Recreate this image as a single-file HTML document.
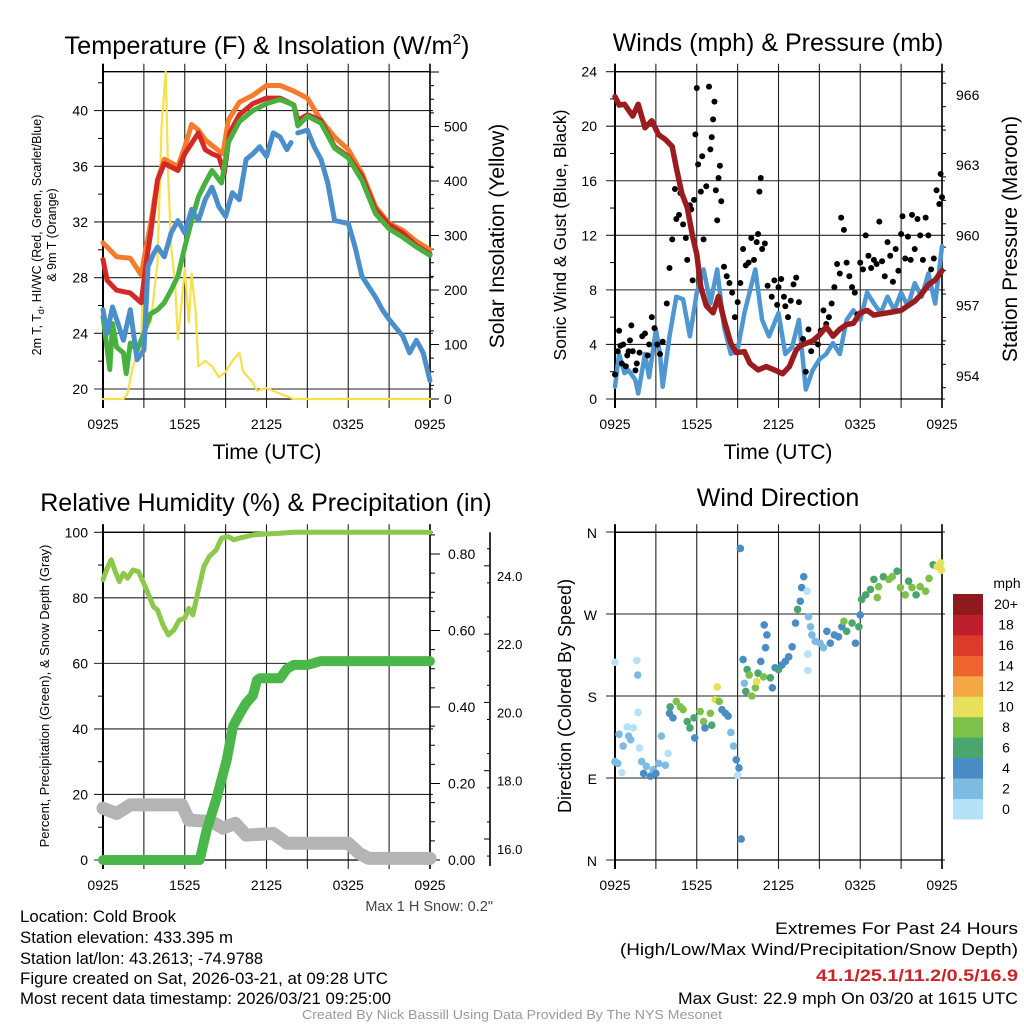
<!DOCTYPE html>
<html><head><meta charset="utf-8">
<style>
html,body{margin:0;padding:0;background:#fff;}
svg{display:block;font-family:"Liberation Sans",Arial,sans-serif;}
</style></head>
<body>
<svg id="chart" width="1024" height="1024" viewBox="0 0 1024 1024" xmlns="http://www.w3.org/2000/svg">
<rect x="0" y="0" width="1024" height="1024" fill="#fff"/>
<g id="layer"></g>
<!-- titles -->
<text x="267" y="54" font-size="25" text-anchor="middle" textLength="405" lengthAdjust="spacingAndGlyphs">Temperature (F) &amp; Insolation (W/m<tspan font-size="15" dy="-10">2</tspan><tspan dy="10">)</tspan></text>
<text x="778" y="51" font-size="25" text-anchor="middle">Winds (mph) &amp; Pressure (mb)</text>
<text x="266" y="511" font-size="25" text-anchor="middle">Relative Humidity (%) &amp; Precipitation (in)</text>
<text x="778" y="506" font-size="25" text-anchor="middle">Wind Direction</text>
<!-- axis titles -->
<text x="267" y="459" font-size="21" text-anchor="middle">Time (UTC)</text>
<text x="778" y="459" font-size="21" text-anchor="middle">Time (UTC)</text>
<text transform="translate(41,235) rotate(-90)" font-size="12.5" text-anchor="middle">2m T, T<tspan font-size="9" dy="3">d</tspan><tspan dy="-3">, HI/WC (Red, Green, Scarlet/Blue)</tspan></text>
<text transform="translate(56,235) rotate(-90)" font-size="12.5" text-anchor="middle">&amp; 9m T (Orange)</text>
<text transform="translate(504,236) rotate(-90)" font-size="21" text-anchor="middle">Solar Insolation (Yellow)</text>
<text transform="translate(566,235) rotate(-90)" font-size="17.5" text-anchor="middle">Sonic Wind &amp; Gust (Blue, Black)</text>
<text transform="translate(1017,239) rotate(-90)" font-size="21" text-anchor="middle">Station Pressure (Maroon)</text>
<text transform="translate(49,696) rotate(-90)" font-size="13" text-anchor="middle">Percent, Precipitation (Green), &amp; Snow Depth (Gray)</text>
<text transform="translate(571,696) rotate(-90)" font-size="18" text-anchor="middle">Direction (Colored By Speed)</text>
<text x="493" y="911" font-size="14.5" fill="#444" text-anchor="end">Max 1 H Snow: 0.2"</text>
<!-- footer -->
<g font-size="16.5">
<text x="20" y="922" textLength="156" lengthAdjust="spacingAndGlyphs">Location: Cold Brook</text>
<text x="20" y="943" textLength="213" lengthAdjust="spacingAndGlyphs">Station elevation: 433.395 m</text>
<text x="20" y="964">Station lat/lon: 43.2613; -74.9788</text>
<text x="20" y="984" textLength="368" lengthAdjust="spacingAndGlyphs">Figure created on Sat, 2026-03-21, at 09:28 UTC</text>
<text x="20" y="1004" textLength="371" lengthAdjust="spacingAndGlyphs">Most recent data timestamp: 2026/03/21 09:25:00</text>
</g>
<g font-size="16.5">
<text x="775" y="934" textLength="243" lengthAdjust="spacingAndGlyphs">Extremes For Past 24 Hours</text>
<text x="620" y="955" textLength="398" lengthAdjust="spacingAndGlyphs">(High/Low/Max Wind/Precipitation/Snow Depth)</text>
<text x="816" y="981" fill="#cc2229" font-weight="bold" textLength="202" lengthAdjust="spacingAndGlyphs">41.1/25.1/11.2/0.5/16.9</text>
<text x="678" y="1004" textLength="340" lengthAdjust="spacingAndGlyphs">Max Gust: 22.9 mph On 03/20 at 1615 UTC</text>
</g>
<text x="302" y="1019" font-size="13" fill="#999" textLength="420" lengthAdjust="spacingAndGlyphs">Created By Nick Bassill Using Data Provided By The NYS Mesonet</text>
<text x="1007" y="588" font-size="14" text-anchor="middle">mph</text>
</svg>
<script>
// ---------- data ----------
const timeTicks = ["0925","1525","2125","0325","0925"];
// Temperature panel
const orangeH = [0,1,2,2.8,3.0,3.5,4.0,4.5,5.5,6.0,6.5,7.0,7.5,8.0,8.8,9.2,10,11,12,13,14,15,16,17,18,19,20,21,22,23,24];
const orangeT = [30.5,29.5,29.4,28.2,29.3,31.9,35.0,36.5,36.0,37.4,39.0,38.6,37.9,37.5,36.9,39.3,40.6,41.1,41.8,41.8,41.4,40.9,39.3,38.1,37.2,35.5,33.1,31.9,31.4,30.6,30.0];
const redH = [0,0.3,1,2,2.8,3.2,3.5,4,4.5,5.5,6,7,7.5,8,8.5,8.9,9.3,10,11,12,13,14,14.3,15,16,17,18,19,20,21,22,23,24];
const redT = [29.3,27.8,27.1,26.9,26.2,29.3,31.2,35.0,36.2,35.7,36.9,38.4,37.2,36.9,36.7,35.5,38.4,39.7,40.5,40.9,40.9,40.4,39.3,39.7,39.3,37.4,36.7,35.3,32.9,31.8,31.2,30.3,29.7];
const greenH = [0,0.5,0.7,1,1.5,1.7,2,2.5,3,3.5,4,4.5,5,5.5,6,6.5,7,7.5,8,8.7,9.2,10,11,12,13,14,14.3,15,16,17,18,19,20,21,22,23,24];
const greenT = [25.2,21.4,24.7,23.0,22.6,21.1,23.3,22.8,24.0,25.4,25.7,26.2,27.1,28.1,30.2,32.1,33.8,34.8,35.7,34.8,37.7,39.2,40.0,40.5,40.8,40.4,38.9,39.6,39.1,37.3,36.6,35.0,32.6,31.5,30.9,30.2,29.6];
const blueH = [0,0.3,0.7,1,1.5,2,2.5,3,3.3,3.7,4,4.5,5,5.5,6,6.5,7,7.5,8,8.5,9,9.5,10,10.5,11,11.5,12,12.5,13,13.5,13.8];
const blueT = [25.7,24.0,25.9,25.0,23.5,25.7,22.1,22.8,28.8,29.7,30.2,29.5,31.2,32.1,31.2,32.9,32.1,33.6,34.5,33.1,32.4,34.1,33.6,36.5,36.9,37.4,36.7,38.4,38.1,37.2,37.7];
const blue2H = [14.3,15,15.5,16,16.5,17,18,18.5,19,20,20.5,21,22,22.5,23,23.5,24];
const blue2T = [38.4,38.6,37.4,36.5,34.8,32.1,31.9,30.2,28.1,26.6,25.7,25.0,23.8,22.6,23.5,22.6,20.6];
const solarH = [0,1.5,1.8,2.2,2.8,2.95,3.2,3.5,4.0,4.3,4.6,4.8,5.0,5.3,5.5,5.7,6.0,6.3,6.5,6.8,7.0,7.5,8,8.5,9,9.5,10,10.3,11,11.3,12,13,13.5,14,24];
const solarW = [0,0,10,60,100,255,160,140,250,500,600,400,280,210,110,160,240,140,230,160,60,70,60,40,50,70,85,50,30,15,20,10,5,0,0];
// Winds panel
const windH = [0,0.3,0.7,1,1.5,1.7,2.2,2.5,3,3.3,3.5,4,4.5,5,5.5,6,6.5,7,7.5,8,8.5,9,9.5,10.3,10.8,11.3,12,12.5,13,13.5,14,14.5,15,15.5,16,16.5,17,17.5,18,18.5,19,19.5,20,20.5,21,21.5,22,22.5,23,23.5,24];
const windS = [0.9,3.3,1.9,2.1,1.4,0.4,3.3,1.6,5.1,3.3,0.9,4.6,7.5,7.3,4.6,7.8,9.5,7.0,9.5,5.3,3.3,3.6,6.3,9.5,5.8,4.6,6.3,3.3,3.8,5.8,0.7,2.1,2.9,3.3,4.1,3.3,5.8,6.5,5.8,7.8,7.0,6.3,7.5,6.5,7.8,6.8,8.5,7.5,9.2,7.0,11.2];
const gustH = [0,0.2,0.3,0.4,0.5,0.6,0.8,0.9,1.0,1.1,1.2,1.3,1.5,1.6,1.8,2.0,2.2,2.4,2.5,2.7,2.9,3.1,3.3,3.5,3.8,4.0,4.2,4.4,4.5,4.7,4.8,5.0,5.2,5.3,5.5,5.6,5.7,5.8,5.9,6.0,6.1,6.3,6.4,6.5,6.7,6.9,7.0,7.1,7.2,7.3,7.4,7.5,7.6,7.7,7.8,8.0,8.2,8.4,8.6,8.8,9.0,9.2,9.4,9.6,9.8,10.0,10.2,10.4,10.5,10.6,10.7,10.8,11.0,11.2,11.5,11.7,11.9,12.0,12.2,12.4,12.5,12.7,12.9,13.1,13.3,13.5,13.8,14.0,14.2,14.4,14.6,14.9,15.1,15.3,15.5,15.7,15.9,16.1,16.3,16.5,16.6,16.8,17.0,17.2,17.4,17.6,17.8,18.0,18.2,18.4,18.6,18.8,19.0,19.2,19.4,19.6,19.8,20.0,20.2,20.4,20.6,20.8,21.0,21.1,21.3,21.5,21.7,21.8,22.0,22.2,22.4,22.6,22.8,23.0,23.2,23.4,23.6,23.8,23.9,24.0];
const gustS = [1.8,3.5,5.0,3.9,2.6,4.0,2.4,3.2,3.5,4.3,5.4,3.5,2.1,2.6,3.4,4.6,4.8,3.2,4.0,6.0,5.2,4.0,3.3,4.2,7.0,9.6,11.7,15.4,13.2,13.5,15.1,12.8,11.8,10.2,14.2,13.9,8.7,14.6,19.4,22.8,17.2,15.2,17.8,11.7,15.6,22.9,18.3,19.2,20.5,21.8,15.3,13.1,16.2,17.1,14.5,9.7,9.0,8.5,7.8,6.0,7.1,8.5,11.0,9.8,10.0,11.8,10.2,11.5,12.1,15.2,16.2,11.0,11.4,8.3,7.5,8.7,6.9,8.2,8.8,7.5,6.8,6.0,7.2,8.4,8.9,7.1,4.4,2.0,5.1,3.5,4.3,4.0,5.0,6.5,5.5,6.0,7.0,8.2,9.9,9.2,13.3,12.4,10.0,9.0,8.2,7.8,6.2,10.0,9.5,12.0,10.5,9.6,10.2,9.9,13.0,10.1,9.0,11.5,10.5,8.6,11.0,9.4,12.1,13.4,10.3,11.9,10.2,13.5,11.0,13.2,12.0,10.2,13.3,12.0,9.5,10.3,15.3,14.3,16.5,14.8];
const presH = [0,0.3,0.7,1.3,1.7,2.2,2.7,3.2,3.7,4.2,4.5,4.9,5.3,5.7,6.0,6.3,6.7,7.2,7.6,8,8.5,8.9,9.5,9.9,10.5,11.1,11.7,12.3,12.8,13.3,13.6,14.5,15.0,15.5,16.0,16.5,17.0,17.5,18,18.5,19,20,21,22,22.5,23,23.5,24];
const presMb = [965.93,965.57,965.6,965.1,965.6,964.6,964.9,964.3,964.1,963.8,962.9,961.8,961.2,959.95,959.2,957.8,957.0,956.7,957.4,956.4,955.4,955.0,955.04,954.54,954.26,954.4,954.26,954.1,954.4,955.1,955.3,955.5,955.75,956.1,955.7,956.0,956.2,956.25,956.7,956.8,956.6,956.7,956.8,957.2,957.5,957.9,958.1,958.5];
// Humidity panel
const rhH = [0,0.3,0.6,0.9,1.2,1.5,1.8,2.2,2.6,3.0,3.4,3.7,4.0,4.4,4.8,5.2,5.6,6.0,6.3,6.6,7.0,7.4,7.8,8.3,8.7,9.2,9.6,10,11,12,13,14,24];
const rhPct = [85.5,89,91.6,88,85,87.5,86,88.5,88,84.4,80.4,77.3,76.3,71.7,68.7,70.2,73.2,73.8,76.8,74.8,82.4,89.5,92.6,94.6,98.2,98.7,97.7,98.2,99.2,99.5,99.7,100,100];
const precipH = [0,7.1,7.6,8.3,9.07,9.55,10.0,10.5,11.0,11.3,11.5,13.0,13.5,14.0,15,16,24];
const precipIn = [0,0,0.078,0.157,0.26,0.35,0.38,0.41,0.43,0.47,0.475,0.475,0.5,0.51,0.51,0.52,0.52];
const snowH = [0,1.0,2.0,5.8,6.3,8.0,8.8,9.7,10.5,12.5,13.5,18.0,18.8,19.5,24];
const snowVal = [15.8,14.2,16.8,16.8,12.2,11.7,9.7,11.2,7.6,8.1,5.1,5.1,2.0,0.5,0.5];
// Wind direction panel
const dirH = [0,0,0.2,0.3,0.5,0.6,0.9,1.0,1.15,1.35,1.6,1.67,1.7,1.8,1.96,2.1,2.3,2.6,2.8,3.0,3.2,3.4,3.7,3.9,4.0,4.05,4.25,4.5,4.8,5.0,5.3,5.5,5.8,5.85,6.25,6.5,6.6,7.0,7.1,7.35,7.5,7.65,7.85,8.1,8.3,8.5,8.7,8.9,9.0,9.1,9.2,9.26,9.4,9.5,9.6,9.7,9.85,10.05,10.3,10.4,10.5,10.7,10.9,10.95,11.05,11.15,11.4,11.55,11.75,12.0,12.25,12.5,12.75,13.0,13.25,13.4,13.6,13.7,13.85,14.1,14.2,14.35,14.45,14.7,14.15,14.15,15.05,15.3,15.55,15.8,16.1,16.4,16.65,16.8,17.0,17.4,17.65,17.9,18.0,18.1,18.4,18.75,19.0,19.25,19.35,19.7,20.1,20.35,20.7,20.95,21.3,21.55,21.8,22.1,22.4,22.8,23.05,23.35,23.65,23.9,23.97];
const dirDeg = [217,108,106,138,96,125,146,136,132,145,219,203,162,123,108,95,103,92,99,95,106,136,104,117,161,168,156,174,168,165,152,145,156,134,163,152,145,161,148,176,190,174,165,161,158,140,125,110,93,101,342,23,220,194,185,209,203,180,189,196,205,218,201,258,233,247,200,189,211,209,214,218,223,234,260,275,284,299,311,295,267,256,247,240,226,208,238,233,251,238,247,245,256,262,251,260,238,256,269,286,291,297,308,288,300,311,308,311,317,299,291,306,299,291,300,295,309,324,322,326,318];
const dirSpd = [1,3,3,3,1,3,1,3,3,1,1,3,1,1,3,4,3,4,3,4,3,3,3,1,4,6,4,8,8,8,6,6,6,4,8,8,4,8,6,10,10,8,4,4,4,3,3,4,1,4,4,4,4,3,6,6,8,8,8,10,6,4,8,4,4,4,6,4,4,6,4,4,4,4,4,6,4,4,4,1,2,2,2,2,1,1,2,2,4,4,4,4,4,8,6,6,4,6,4,6,6,6,6,8,8,6,8,8,6,8,8,6,8,6,8,8,8,6,10,10,10];
const cbLabels = ["0","2","4","6","8","10","12","14","16","18","20+"];
const cbColors = ["#b5e2f6","#7dbbe3","#4a8dc6","#4aa56e","#7dc14b","#e6e05a","#f4a844","#ef6330","#dd3a2a","#bf1e2d","#8e1a1d"];

// ---------- scales ----------
const X0 = 103, X1 = 430, X0R = 615, X1R = 942;
function xL(h){ return X0 + h*(X1-X0)/24; }
function xR(h){ return X0R + h*(X1R-X0R)/24; }
function yTemp(t){ return 389 - (t-20)*13.92; }
function ySolar(s){ return 399 - s*0.545; }
function yWind(m){ return 399 - m*13.64; }
function yPres(p){ return 376 - (p-954)*23.42; }
function yRH(r){ return 860 - r*3.277; }
function yPrecip(p){ return 860 - p*382.5; }
function ySnowAxis(v){ return 839 - (v-16)*34.15; }
function yDir(d){ return 860 - d*82/90; }

const NS = "http://www.w3.org/2000/svg";
const layer = document.getElementById('layer');
function el(tag, attrs, parent){
  const e = document.createElementNS(NS, tag);
  for (const k in attrs) e.setAttribute(k, attrs[k]);
  (parent||layer).appendChild(e);
  return e;
}
function txt(x,y,s,size,anchor,parent){
  const t = el('text',{x:x,y:y,'font-size':size,'text-anchor':anchor||'middle'},parent);
  t.textContent = s;
  return t;
}
function poly(hs, vs, xf, yf, color, w, name, parent){
  const pts = hs.map((h,i)=>xf(h).toFixed(1)+','+yf(vs[i]).toFixed(1)).join(' ');
  const p = el('polyline',{points:pts,fill:'none',stroke:color,'stroke-width':w,'stroke-linejoin':'round','stroke-linecap':'round'},parent);
  
  
  return p;
}

// ---------- panel frame ----------
function frame(xa, xb, yt, yb, hLines, name){
  const g = el('g',{});
  
  
  for (let i=0;i<=8;i++){
    const x = xa + i*(xb-xa)/8;
    el('line',{x1:x,y1:yt-8,x2:x,y2:yb+9,stroke:'#222','stroke-width':1.1},g);
  }
  hLines.forEach(y=>{ el('line',{x1:xa-9,y1:y,x2:xb+3,y2:y,stroke:'#222','stroke-width':1.1},g); });
  el('line',{x1:xa,y1:yt,x2:xb,y2:yt,stroke:'#000','stroke-width':1.3},g);
  el('line',{x1:xa,y1:yb,x2:xb,y2:yb,stroke:'#000','stroke-width':1.3},g);
  el('line',{x1:xa,y1:yt-8,x2:xa,y2:yb+9,stroke:'#000','stroke-width':2},g);
  el('line',{x1:xb,y1:yt-8,x2:xb,y2:yb+9,stroke:'#000','stroke-width':1.6},g);
  timeTicks.forEach((s,i)=>{
    const x = xa + i*(xb-xa)/4;
    const t = txt(x, yb+30, s, 14, 'middle', g);
    
    
  });
  return g;
}

// ===== Panel 1: Temperature =====
const tempTicks = [20,24,28,32,36,40];
const solarTicks = [0,100,200,300,400,500];
const g1 = frame(X0, X1, 71.7, 399, tempTicks.map(yTemp), 'temperature-panel');
tempTicks.forEach(t=>{ const l=txt(88, yTemp(t)+5, String(t), 14, 'end', g1);   });
for (let t=22;t<=42;t+=4){ el('line',{x1:X0-5,y1:yTemp(t),x2:X0,y2:yTemp(t),stroke:'#000'},g1); }
for (let s=0;s<=600;s+=25){ el('line',{x1:X1,y1:ySolar(s),x2:X1+(s%100===0?9:4),y2:ySolar(s),stroke:'#000'},g1); }
solarTicks.forEach(s=>{ const l=txt(444, ySolar(s)+5, String(s), 14, 'start', g1);   });
poly(solarH, solarW, xL, ySolar, '#f7e04a', 2.2, 'solar-insolation-line');
poly(orangeH, orangeT, xL, yTemp, '#f47c2c', 5, 'temp-9m-line');
poly(redH, redT, xL, yTemp, '#d42a26', 5, 'temp-2m-line');
poly(greenH, greenT, xL, yTemp, '#48b03e', 5, 'heat-index-wind-chill-line');
poly(blueH, blueT, xL, yTemp, '#4a8fc9', 5, 'dewpoint-line');
poly(blue2H, blue2T, xL, yTemp, '#4a8fc9', 5, 'dewpoint-line-2');

// ===== Panel 2: Winds =====
const windTicks = [0,4,8,12,16,20,24];
const presTicks = [954,957,960,963,966];
const g2 = frame(X0R, X1R, 71.7, 399, windTicks.map(yWind), 'winds-panel');
windTicks.forEach(m=>{ const l=txt(597, yWind(m)+5, String(m), 14, 'end', g2);   });
for (let m=2;m<24;m+=4){ el('line',{x1:X0R-5,y1:yWind(m),x2:X0R,y2:yWind(m),stroke:'#000'},g2); }
for (let p=953.5;p<=967;p+=1){ el('line',{x1:X1R,y1:yPres(p),x2:X1R+(Number.isInteger((p-954)/3)?9:4),y2:yPres(p),stroke:'#000'},g2); }
presTicks.forEach(p=>{ const l=txt(956, yPres(p)+5, String(p), 14, 'start', g2);   });
poly(windH, windS, xR, yWind, '#4f97d1', 4.5, 'sonic-wind-line');
const gg = el('g',{});


gustH.forEach((h,i)=>{
  const c = el('circle',{cx:xR(h),cy:yWind(gustS[i]),r:3,fill:'#000'},gg);
  
  
});
poly(presH, presMb, xR, yPres, '#9a1c1f', 5.5, 'station-pressure-line');

// ===== Panel 3: Humidity =====
const rhTicks = [0,20,40,60,80,100];
const precipTicks = [0,0.2,0.4,0.6,0.8];
const snowTicks = [16,18,20,22,24];
const Y3T = 532.3, Y3B = 860;
const g3 = frame(X0, X1, Y3T, Y3B, rhTicks.map(yRH), 'humidity-panel');
rhTicks.forEach(r=>{ const l=txt(88, yRH(r)+5, String(r), 14, 'end', g3);   });
for (let r=10;r<100;r+=20){ el('line',{x1:X0-5,y1:yRH(r),x2:X0,y2:yRH(r),stroke:'#000'},g3); }
for (let p=0;p<=0.851;p+=0.05){ const maj = Math.abs(p*5-Math.round(p*5))<1e-6; el('line',{x1:X1,y1:yPrecip(p),x2:X1+(maj?10:5),y2:yPrecip(p),stroke:'#000'},g3); }
precipTicks.forEach(p=>{ const l=txt(448, yPrecip(p)+5, p.toFixed(2), 14, 'start', g3);   });
el('line',{x1:490,y1:Y3T,x2:490,y2:Y3B+6,stroke:'#000','stroke-width':1.6},g3);
for (let v=15.5;v<=25.3;v+=1){ el('line',{x1:490,y1:ySnowAxis(v),x2:487,y2:ySnowAxis(v),stroke:'#000'},g3); }
snowTicks.forEach(v=>{ el('line',{x1:490,y1:ySnowAxis(v),x2:484,y2:ySnowAxis(v),stroke:'#000'},g3); const l=txt(497, ySnowAxis(v)+15, v.toFixed(1), 13, 'start', g3);   });
poly(snowH, snowVal, xL, yRH, '#b4b4b4', 13, 'snow-depth-line');
poly(precipH, precipIn, xL, yPrecip, '#4bb649', 10, 'precipitation-line');
poly(rhH, rhPct, xL, yRH, '#8cc84b', 5, 'relative-humidity-line');

// ===== Panel 4: Wind Direction =====
const dirTicks = [0,90,180,270,360];
const dirLabels = ["N","E","S","W","N"];
const g4 = frame(X0R, X1R, 532.3, 860, dirTicks.map(yDir), 'wind-direction-panel');
dirTicks.forEach((d,i)=>{ const l=txt(597, yDir(d)+6, dirLabels[i], 14, 'end', g4);   });
const gd = el('g',{});


dirH.forEach((h,i)=>{
  const bin = Math.min(10, Math.floor(dirSpd[i]/2));
  const c = el('circle',{cx:xR(h),cy:yDir(dirDeg[i]),r:3.8,fill:cbColors[bin]},gd);
  
  
});
// colorbar
const gc = el('g',{});


const cbTop = 594, cbH = 225/11;
cbLabels.forEach((s,i)=>{
  const k = 10 - i;
  const r = el('rect',{x:953,y:cbTop + k*cbH,width:30,height:cbH+0.5,fill:cbColors[i]},gc);
  
  
  const t = txt(1006, cbTop + k*cbH + cbH/2 + 5, s, 14, 'middle', gc);
  
  
});
</script>
</body></html>
